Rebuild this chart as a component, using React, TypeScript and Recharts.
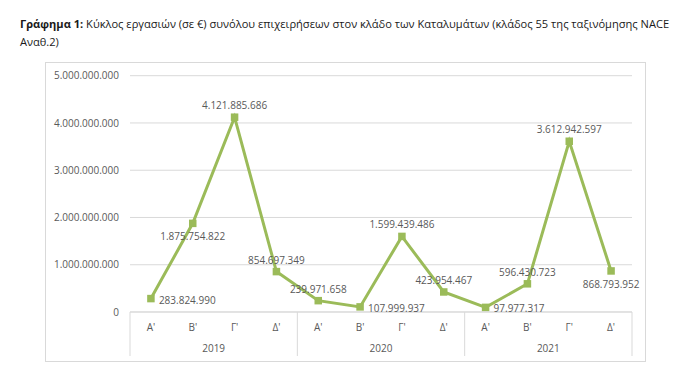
import React from 'react';
import { LineChart, Line, XAxis, YAxis, CartesianGrid, LabelList } from 'recharts';

const quarters = ["Α'", "Β'", "Γ'", "Δ'", "Α'", "Β'", "Γ'", "Δ'", "Α'", "Β'", "Γ'", "Δ'"];
const years = ['2019', '2019', '2019', '2019', '2020', '2020', '2020', '2020', '2021', '2021', '2021', '2021'];
const turnover = [
  283824990, 1875754822, 4121885686, 854697349,
  239971658, 107999937, 1599439486, 423954467,
  97977317, 596430723, 3612942597, 868793952,
];
const yTicks = [0, 1000000000, 2000000000, 3000000000, 4000000000, 5000000000];
const labelPlacement = ['right', 'bottom', 'top', 'top', 'top', 'right', 'top', 'top', 'right', 'top', 'top', 'bottom'];

const data = quarters.map((q, i) => ({ key: years[i] + ' ' + q, q, year: years[i], value: turnover[i] }));

const FONT = '"Open Sans", "Noto Sans", sans-serif';
const TEXT = '#595959';
const GRID = '#d9d9d9';
const GREEN = '#9bbb59';
const AXIS_H = 44;

const fmt = (v: number) => String(Math.round(v)).replace(/\B(?=(\d{3})+(?!\d))/g, '.');

const CategoryTick = (props: any) => {
  const { x, y, payload, index } = props;
  const half = payload && payload.offset ? payload.offset : 20.9;
  const row = data[index] || { q: '', year: '' };
  const pos = index % 4;
  return (
    <g>
      <text x={x} y={y + 15} textAnchor="middle" dominantBaseline="central" fill={TEXT} fontSize={10} fontFamily={FONT}>
        {row.q}
      </text>
      {pos === 0 && <line x1={x - half} x2={x - half} y1={y} y2={y + AXIS_H} stroke={GRID} strokeWidth={1} />}
      {index === data.length - 1 && (
        <line x1={x + half} x2={x + half} y1={y} y2={y + AXIS_H} stroke={GRID} strokeWidth={1} />
      )}
      {pos === 1 && (
        <text x={x + half} y={y + 36} textAnchor="middle" dominantBaseline="central" fill={TEXT} fontSize={10} fontFamily={FONT}>
          {row.year}
        </text>
      )}
    </g>
  );
};

const SquareDot = (props: any) => {
  const { cx, cy, index } = props;
  if (cx == null || cy == null) return <g key={index} />;
  return <rect key={index} x={cx - 3.75} y={cy - 3.75} width={7.5} height={7.5} fill={GREEN} />;
};

const PointLabel = (props: any) => {
  const { x, y, value, index } = props;
  const pos = labelPlacement[index];
  let tx = x;
  let ty = y;
  let anchor: any = 'middle';
  if (pos === 'right') {
    tx = x + 8;
    ty = y + 1;
    anchor = 'start';
  } else if (pos === 'top') {
    ty = y - 12;
  } else if (pos === 'bottom') {
    ty = y + 13;
  }
  return (
    <text x={tx} y={ty} textAnchor={anchor} dominantBaseline="central" fill={TEXT} fontSize={10} fontFamily={FONT}>
      {fmt(value)}
    </text>
  );
};

export default function App() {
  return (
    <div style={{ position: 'absolute', left: 0, top: 0, width: 700, height: 392, background: '#fff', overflow: 'hidden' }}>
      <div
        style={{
          position: 'absolute',
          left: 20,
          top: 15,
          fontFamily: FONT,
          fontSize: 11.1,
          lineHeight: '18px',
          color: '#1a1a1a',
          whiteSpace: 'nowrap',
        }}
      >
        <div>
          <b>Γράφημα 1:</b> Κύκλος εργασιών (σε €) συνόλου επιχειρήσεων στον κλάδο των Καταλυμάτων (κλάδος 55 της ταξινόμησης NACE
        </div>
        <div>Αναθ.2)</div>
      </div>
      <div
        style={{
          position: 'absolute',
          left: 45,
          top: 62,
          width: 601,
          height: 300,
          border: `1px solid ${GRID}`,
          boxSizing: 'border-box',
        }}
      />
      <div style={{ position: 'absolute', left: 0, top: 0 }}>
        <LineChart width={700} height={392} data={data} margin={{ top: 75.7, right: 68, left: 0, bottom: 36 }}>
          <CartesianGrid horizontal={true} vertical={false} stroke={GRID} strokeWidth={1} />
          <XAxis
            dataKey="key"
            scale="band"
            height={AXIS_H}
            tickLine={false}
            tickSize={0}
            tickMargin={0}
            axisLine={{ stroke: GRID }}
            tick={<CategoryTick />}
            interval={0}
          />
          <YAxis
            width={130}
            domain={[0, 5000000000]}
            ticks={yTicks}
            tickFormatter={fmt}
            axisLine={false}
            tickLine={false}
            tickSize={0}
            tickMargin={11}
            tick={{ fill: TEXT, fontSize: 10, fontFamily: FONT }}
          />
          <Line
            type="linear"
            dataKey="value"
            stroke={GREEN}
            strokeWidth={3}
            dot={<SquareDot />}
            activeDot={false}
            isAnimationActive={false}
          >
            <LabelList dataKey="value" content={<PointLabel />} />
          </Line>
        </LineChart>
      </div>
    </div>
  );
}
